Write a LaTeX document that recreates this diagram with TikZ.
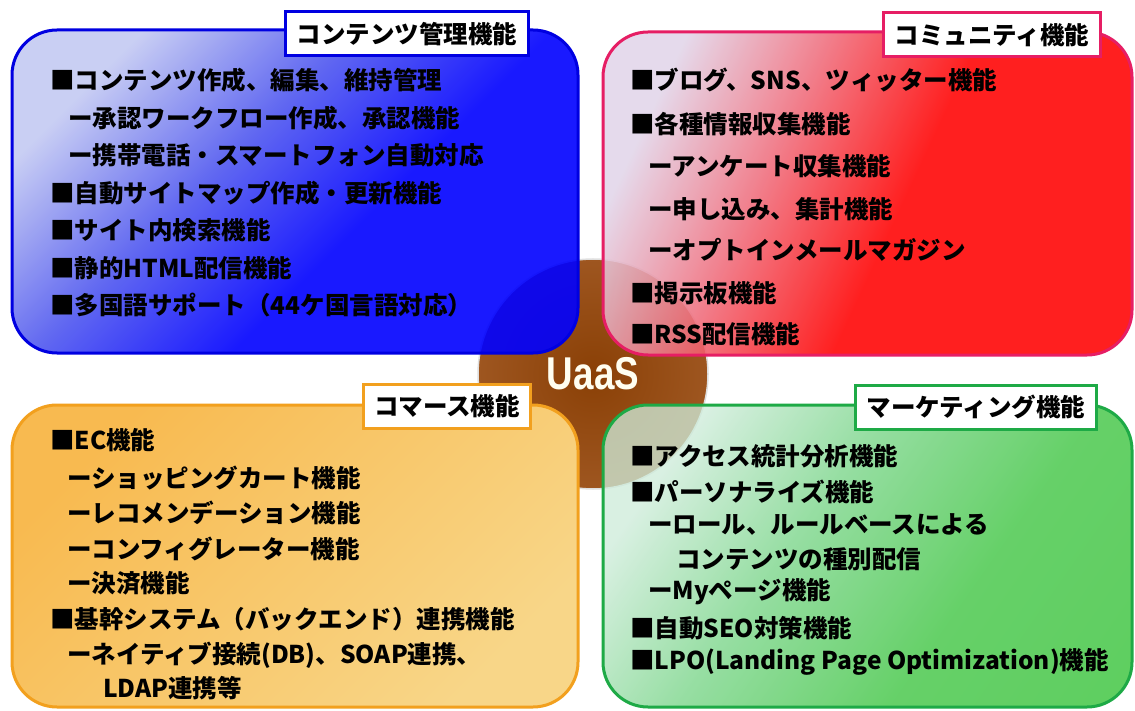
\documentclass[tikz,border=0pt]{standalone}
\usepackage{fontspec}
\setmainfont{Noto Sans CJK JP}
\newfontfamily\uaasfont{Liberation Sans}

\definecolor{blueEdge}{RGB}{0,0,225}
\definecolor{blueLight}{RGB}{196,202,242}
\definecolor{blueMid}{RGB}{80,88,240}
\definecolor{blueDark}{RGB}{0,0,255}
\definecolor{redEdge}{RGB}{230,30,100}
\definecolor{redLight}{RGB}{226,214,234}
\definecolor{redMid}{RGB}{240,110,125}
\definecolor{redDark}{RGB}{255,0,0}
\definecolor{orangeEdge}{RGB}{242,160,30}
\definecolor{orangeLight}{RGB}{248,186,80}
\definecolor{orangeMid}{RGB}{249,198,104}
\definecolor{orangeDark}{RGB}{248,214,136}
\definecolor{greenEdge}{RGB}{30,170,70}
\definecolor{greenLight}{RGB}{206,236,218}
\definecolor{greenMid}{RGB}{118,212,134}
\definecolor{greenDark}{RGB}{38,190,38}
\definecolor{uaasIn}{RGB}{138,64,6}
\definecolor{uaasOut}{RGB}{158,86,32}

% sombreados de los paneles (de abajo hacia arriba)
\pgfdeclareverticalshading{bluepanel}{100bp}{color(0bp)=(blueDark); color(42bp)=(blueDark);
  color(58bp)=(blueMid); color(75bp)=(blueLight); color(100bp)=(blueLight)}
\pgfdeclareverticalshading{redpanel}{100bp}{color(0bp)=(redDark); color(46bp)=(redDark);
  color(61bp)=(redMid); color(75bp)=(redLight); color(100bp)=(redLight)}
\pgfdeclareverticalshading{greenpanel}{100bp}{color(0bp)=(greenDark); color(38bp)=(greenDark!80!greenMid);
  color(58bp)=(greenMid); color(75bp)=(greenLight); color(100bp)=(greenLight)}

\begin{document}
\begin{tikzpicture}[x=1pt,y=1pt,
  item/.style={anchor=west, inner sep=0pt, font=\bfseries\fontsize{24.5}{28}\selectfont},
  title/.style={draw, fill=white, line width=3pt, minimum height=44pt, inner xsep=11pt,
    font=\bfseries\fontsize{24.5}{28}\selectfont},
  panel/.style={line width=3pt, rounded corners=45pt}]

\path[use as bounding box, fill=white] (0,0) rectangle (1135,-711);

% UaaS
\node[circle, minimum size=230pt, draw=gray!25, line width=1.5pt,
  inner color=uaasIn, outer color=uaasOut, text=white!94!yellow,
  font=\uaasfont\bfseries\fontsize{46}{46}\selectfont] (uaas) at (593,-374) {\scalebox{0.8}[1]{UaaS}};

% Paneles
\shade[panel, draw=orangeEdge, top color=orangeLight, middle color=orangeMid,
  bottom color=orangeDark, shading angle=45] (12,-405) rectangle (578,-707);
\shade[panel, draw=blueEdge, shading=bluepanel, shading angle=45, fill opacity=0.9]
  (12,-30) rectangle (578,-353);
\shade[panel, draw=redEdge, shading=redpanel, shading angle=65, fill opacity=0.88]
  (603,-32) rectangle (1132,-355);
\shade[panel, draw=greenEdge, shading=greenpanel, shading angle=55, fill opacity=0.76]
  (603,-405) rectangle (1132,-707);

% Titulos
\node[title, draw=blueEdge] (tcont) at (407,-34) {コンテンツ管理機能};
\node[title, draw=redEdge] (tcomu) at (992,-35) {コミュニティ機能};
\node[title, draw=orangeEdge] (tcom) at (447,-406) {コマース機能};
\node[title, draw=greenEdge] (tmark) at (976,-407) {マーケティング機能};

% Contenidos
\node[item] (cont1) at (50,-80) {■コンテンツ作成、編集、維持管理};
\node[item] (cont2) at (68,-118) {ー承認ワークフロー作成、承認機能};
\node[item] (cont3) at (68,-155) {ー携帯電話・スマートフォン自動対応};
\node[item] (cont4) at (50,-193) {■自動サイトマップ作成・更新機能};
\node[item] (cont5) at (50,-230) {■サイト内検索機能};
\node[item] (cont6) at (50,-268) {■静的HTML配信機能};
\node[item] (cont7) at (50,-305) {■多国語サポート（44ケ国言語対応）};

% Comunidad
\node[item] (comu1) at (630,-80) {■ブログ、SNS、ツィッター機能};
\node[item] (comu2) at (630,-124) {■各種情報収集機能};
\node[item] (comu3) at (648,-166) {ーアンケート収集機能};
\node[item] (comu4) at (648,-209) {ー申し込み、集計機能};
\node[item] (comu5) at (648,-250) {ーオプトインメールマガジン};
\node[item] (comu6) at (630,-293) {■掲示板機能};
\node[item] (comu7) at (630,-334) {■RSS配信機能};

% Comercio
\node[item] (com1) at (50,-440) {■EC機能};
\node[item] (com2) at (67,-478) {ーショッピングカート機能};
\node[item] (com3) at (67,-513) {ーレコメンデーション機能};
\node[item] (com4) at (67,-549) {ーコンフィグレーター機能};
\node[item] (com5) at (67,-583) {ー決済機能};
\node[item] (com6) at (50,-619) {■基幹システム（バックエンド）連携機能};
\node[item] (com7) at (67,-655) {ーネイティブ接続(DB)、SOAP連携、};
\node[item] (com8) at (103,-688) {LDAP連携等};

% Marketing
\node[item] (mark1) at (630,-456) {■アクセス統計分析機能};
\node[item] (mark2) at (630,-492) {■パーソナライズ機能};
\node[item] (mark3) at (648,-524) {ーロール、ルールベースによる};
\node[item] (mark4) at (676,-559) {コンテンツの種別配信};
\node[item] (mark5) at (648,-592) {ーMyページ機能};
\node[item] (mark6) at (630,-628) {■自動SEO対策機能};
\node[item] (mark7) at (630,-662) {■LPO(Landing Page Optimization)機能};

\end{tikzpicture}
\end{document}
